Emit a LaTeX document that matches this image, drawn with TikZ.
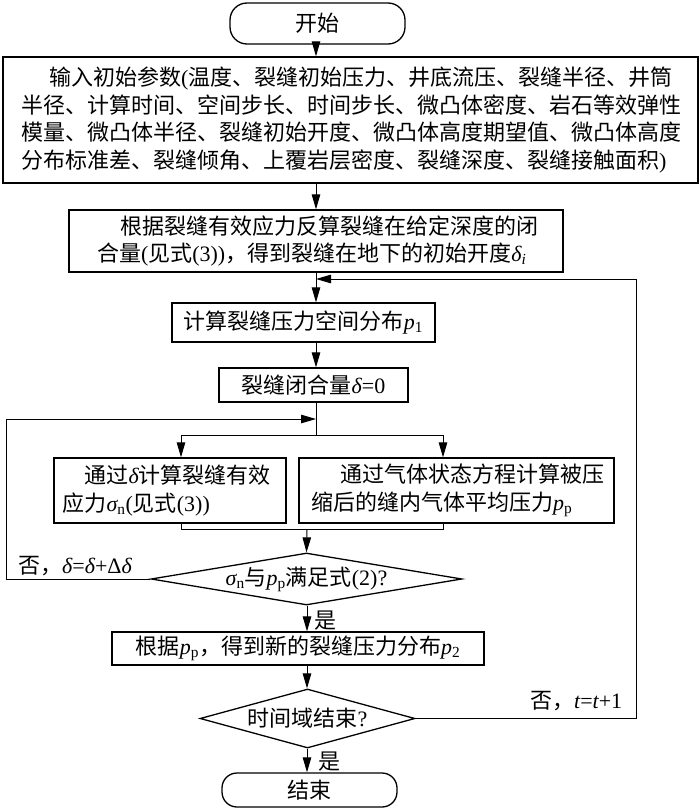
\documentclass[tikz,border=0pt]{standalone}
\usepackage{fontspec}
\setmainfont{Noto Sans CJK SC}
\newfontfamily\lat{Liberation Serif}
\usetikzlibrary{shapes.geometric,arrows.meta}
\newcommand\iv[1]{{\lat\itshape #1}}
\newcommand\sbs[1]{\textsubscript{\lat #1}}
\newcommand\lt[1]{{\lat #1}}
\begin{document}
\begin{tikzpicture}[x=1pt,y=-1pt,
  every node/.style={font=\fontsize{22}{27.5}\selectfont},
  box/.style={draw, line width=1.3pt, inner ysep=0pt},
  term/.style={draw, line width=1.3pt, rounded corners=17pt, inner sep=0pt},
  dec/.style={draw, diamond, line width=1.3pt, inner sep=0pt},
  ln/.style={line width=1pt},
  ar/.style={line width=1pt, -{Triangle[length=15pt,width=8.5pt]}},
  lbl/.style={inner sep=0pt}]
\useasboundingbox (0,0) rectangle (700,808);

% nodes
\node[term, minimum width=175pt, minimum height=41pt] (st) at (317.5,23.5) {开始};
\node[box, inner xsep=18pt, text width=659pt, minimum height=126pt, align=left] (in) at (350.5,120)
 {\hspace*{28pt}输入初始参数\lt{(}温度、裂缝初始压力、井底流压、裂缝半径、井筒\\
  半径、计算时间、空间步长、时间步长、微凸体密度、岩石等效弹性\\
  模量、微凸体半径、裂缝初始开度、微凸体高度期望值、微凸体高度\\
  分布标准差、裂缝倾角、上覆岩层密度、裂缝深度、裂缝接触面积\lt{)}};
\node[box, inner xsep=28pt, text width=438pt, minimum height=62pt, align=left] (b2) at (316,241)
 {\hspace*{23pt}根据裂缝有效应力反算裂缝在给定深度的闭\\
  合量\lt{(}见式\lt{(3))}，得到裂缝在地下的初始开度\iv{δ}\sbs{\itshape i}};
\node[box, inner xsep=0pt, minimum width=263pt, minimum height=39pt] (p1) at (303.5,322.5)
 {计算裂缝压力空间分布\iv{p}\sbs{1}};
\node[box, inner xsep=0pt, minimum width=189pt, minimum height=34pt] (d0) at (313.5,385)
 {裂缝闭合量\iv{δ}\lt{=0}};
\node[box, inner xsep=8.5pt, text width=215pt, minimum height=65pt, align=left] (lb) at (170,490.5)
 {\hspace*{22pt}通过\iv{δ}计算裂缝有效\\
  应力\iv{σ}\sbs{n}\lt{(}见式\lt{(3))}};
\node[box, inner xsep=12pt, text width=291pt, minimum height=65pt, align=left] (rb) at (456.5,490.5)
 {\hspace*{29pt}通过气体状态方程计算被压\\
  缩后的缝内气体平均压力\iv{p}\sbs{p}};
\node[dec, shape aspect=6, minimum width=297pt, minimum height=52pt] (q1) at (306.5,579)
 {\iv{σ}\sbs{n}与\iv{p}\sbs{p}满足式\lt{(2)?}};
\node[box, inner xsep=0pt, minimum width=372pt, minimum height=33pt] (p2) at (298,648.5)
 {根据\iv{p}\sbs{p}，得到新的裂缝压力分布\iv{p}\sbs{2}};
\node[dec, shape aspect=4, minimum width=215pt, minimum height=59pt] (q2) at (307.5,718.5)
 {时间域结束\lt{?}};
\node[term, minimum width=175pt, minimum height=34pt, rounded corners=15pt] (en) at (309.5,790) {结束};

% labels
\node[lbl, anchor=west] (l1) at (18,566) {否，\iv{δ}\lt{=}\iv{δ}\lt{+Δ}\iv{δ}};
\node[lbl, anchor=west] (l2) at (530,701) {否，\iv{t}\lt{=}\iv{t}\lt{+1}};
\node[lbl, anchor=west] (y1) at (314,621) {是};
\node[lbl, anchor=west] (y2) at (318,762) {是};

% coordinates
\coordinate (mx) at (316,0);
\coordinate (lx) at (307,0);
\coordinate (rj) at (316,279);
\coordinate (rp) at (636,279);
\coordinate (lj) at (316,419);
\coordinate (lp) at (6,419);
\coordinate (sp) at (316,435);
\coordinate (spL) at (181,435);
\coordinate (spR) at (443,435);
\coordinate (mL) at (181,529);
\coordinate (mR) at (443,529);
\coordinate (mg) at (307,529);

% connectors
\draw[ar] (st.south -| mx) -- (in.north -| mx);
\draw[ar] (in.south -| mx) -- (b2.north -| mx);
\draw[ar] (b2.south -| mx) -- (p1.north -| mx);
\draw[ar] (p1.south -| mx) -- (d0.north -| mx);
\draw[ln] (d0.south -| mx) -- (sp);
\draw[ln] (spL) -- (spR);
\draw[ar] (spL) -- (lb.north -| spL);
\draw[ar] (spR) -- (rb.north -| spR);
\draw[ln] (lb.south -| mL) -- (mL) -- (mR) -- (rb.south -| mR);
\draw[ar] (mg) -- (q1.north);
\draw[ar] (q1.west) -- (q1.west -| lp) -- (lp) -- (lj);
\draw[ar] (q1.south -| lx) -- (p2.north -| lx);
\draw[ar] (p2.south -| lx) -- (q2.north -| lx);
\draw[ar] (q2.south -| lx) -- (en.north -| lx);
\draw[ar] (q2.east) -| (rp) -- (rj);
\end{tikzpicture}
\end{document}
